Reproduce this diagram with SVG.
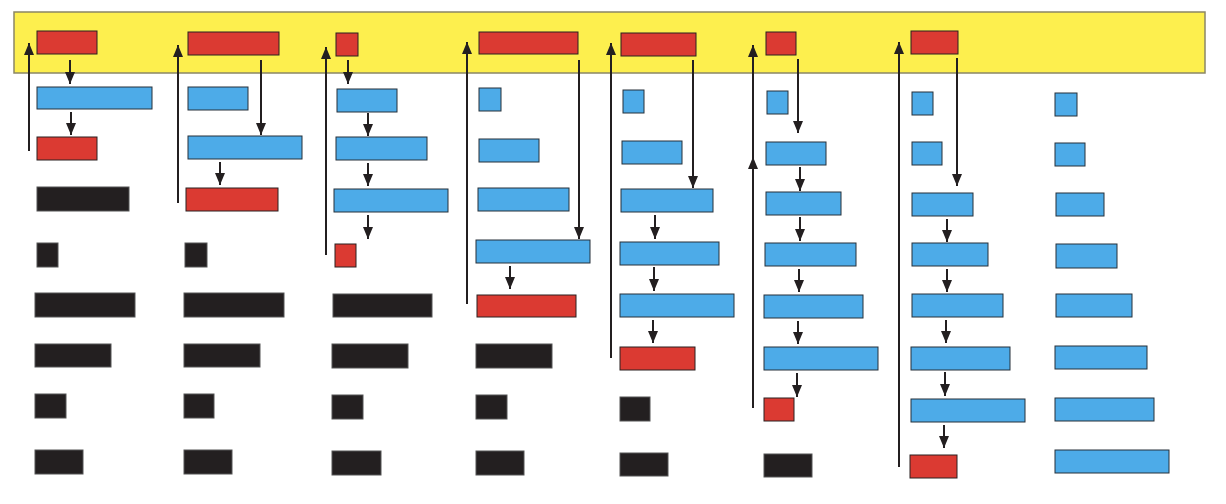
<svg xmlns="http://www.w3.org/2000/svg" width="1226" height="504" viewBox="0 0 1226 504">
<style>
.r{fill:#DB3A32;stroke:#2a2020;stroke-width:1}
.b{fill:#4DABE8;stroke:#26303a;stroke-width:1}
.k{fill:#231F20;stroke:#555;stroke-width:1}
.c{fill:none;stroke:#231F20;stroke-width:2;marker-end:url(#ah)}
</style>
<defs>
<marker id="ah" viewBox="0 0 12 10" refX="12" refY="5" markerWidth="12" markerHeight="10" markerUnits="userSpaceOnUse" orient="auto">
<path d="M0,0 L12,5 L0,10 z" fill="#231F20"/>
</marker>
</defs>
<rect id="band" x="14" y="12" width="1191" height="61" fill="#FDEF4E" stroke="#8a8766" stroke-width="1.5"/>
<g id="col1">
<g id="n1a"><rect class="r" x="37" y="31" width="60" height="23"/></g>
<g id="n1b"><rect class="b" x="37" y="87" width="115" height="22"/></g>
<g id="n1c"><rect class="r" x="37" y="137" width="60" height="23"/></g>
<g id="n1d"><rect class="k" x="37" y="187" width="92" height="24"/></g>
<g id="n1e"><rect class="k" x="37" y="243" width="21" height="24"/></g>
<g id="n1f"><rect class="k" x="35" y="293" width="100" height="24"/></g>
<g id="n1g"><rect class="k" x="35" y="344" width="76" height="23"/></g>
<g id="n1h"><rect class="k" x="35" y="394" width="31" height="24"/></g>
<g id="n1i"><rect class="k" x="35" y="450" width="48" height="24"/></g>
</g>
<g id="col2">
<g id="n2a"><rect class="r" x="188" y="32" width="91" height="23"/></g>
<g id="n2b"><rect class="b" x="188" y="87" width="60" height="23"/></g>
<g id="n2c"><rect class="b" x="188" y="136" width="114" height="23"/></g>
<g id="n2d"><rect class="r" x="186" y="188" width="92" height="23"/></g>
<g id="n2e"><rect class="k" x="185" y="243" width="22" height="24"/></g>
<g id="n2f"><rect class="k" x="184" y="293" width="100" height="24"/></g>
<g id="n2g"><rect class="k" x="184" y="344" width="76" height="23"/></g>
<g id="n2h"><rect class="k" x="184" y="394" width="30" height="24"/></g>
<g id="n2i"><rect class="k" x="184" y="450" width="48" height="24"/></g>
</g>
<g id="col3">
<g id="n3a"><rect class="r" x="336" y="33" width="22" height="23"/></g>
<g id="n3b"><rect class="b" x="337" y="89" width="60" height="23"/></g>
<g id="n3c"><rect class="b" x="336" y="137" width="91" height="23"/></g>
<g id="n3d"><rect class="b" x="334" y="189" width="114" height="23"/></g>
<g id="n3e"><rect class="r" x="335" y="244" width="21" height="23"/></g>
<g id="n3f"><rect class="k" x="333" y="294" width="99" height="23"/></g>
<g id="n3g"><rect class="k" x="332" y="344" width="76" height="24"/></g>
<g id="n3h"><rect class="k" x="332" y="395" width="31" height="24"/></g>
<g id="n3i"><rect class="k" x="332" y="451" width="49" height="24"/></g>
</g>
<g id="col4">
<g id="n4a"><rect class="r" x="479" y="32" width="99" height="22"/></g>
<g id="n4b"><rect class="b" x="479" y="88" width="22" height="23"/></g>
<g id="n4c"><rect class="b" x="479" y="139" width="60" height="23"/></g>
<g id="n4d"><rect class="b" x="478" y="188" width="91" height="23"/></g>
<g id="n4e"><rect class="b" x="476" y="240" width="114" height="23"/></g>
<g id="n4f"><rect class="r" x="477" y="295" width="99" height="22"/></g>
<g id="n4g"><rect class="k" x="476" y="344" width="76" height="24"/></g>
<g id="n4h"><rect class="k" x="476" y="395" width="31" height="24"/></g>
<g id="n4i"><rect class="k" x="476" y="451" width="48" height="24"/></g>
</g>
<g id="col5">
<g id="n5a"><rect class="r" x="621" y="33" width="75" height="23"/></g>
<g id="n5b"><rect class="b" x="623" y="90" width="21" height="23"/></g>
<g id="n5c"><rect class="b" x="622" y="141" width="60" height="23"/></g>
<g id="n5d"><rect class="b" x="621" y="189" width="92" height="23"/></g>
<g id="n5e"><rect class="b" x="620" y="242" width="99" height="23"/></g>
<g id="n5f"><rect class="b" x="620" y="294" width="114" height="23"/></g>
<g id="n5g"><rect class="r" x="620" y="347" width="75" height="23"/></g>
<g id="n5h"><rect class="k" x="620" y="397" width="30" height="24"/></g>
<g id="n5i"><rect class="k" x="620" y="453" width="48" height="23"/></g>
</g>
<g id="col6">
<g id="n6a"><rect class="r" x="766" y="32" width="30" height="23"/></g>
<g id="n6b"><rect class="b" x="767" y="91" width="21" height="23"/></g>
<g id="n6c"><rect class="b" x="766" y="142" width="60" height="23"/></g>
<g id="n6d"><rect class="b" x="766" y="192" width="75" height="23"/></g>
<g id="n6e"><rect class="b" x="765" y="243" width="91" height="23"/></g>
<g id="n6f"><rect class="b" x="764" y="295" width="99" height="23"/></g>
<g id="n6g"><rect class="b" x="764" y="347" width="114" height="23"/></g>
<g id="n6h"><rect class="r" x="764" y="398" width="30" height="23"/></g>
<g id="n6i"><rect class="k" x="764" y="454" width="48" height="23"/></g>
</g>
<g id="col7">
<g id="n7a"><rect class="r" x="911" y="31" width="47" height="23"/></g>
<g id="n7b"><rect class="b" x="912" y="92" width="21" height="23"/></g>
<g id="n7c"><rect class="b" x="912" y="142" width="30" height="23"/></g>
<g id="n7d"><rect class="b" x="912" y="193" width="61" height="23"/></g>
<g id="n7e"><rect class="b" x="912" y="243" width="76" height="23"/></g>
<g id="n7f"><rect class="b" x="912" y="294" width="91" height="23"/></g>
<g id="n7g"><rect class="b" x="911" y="347" width="99" height="23"/></g>
<g id="n7h"><rect class="b" x="911" y="399" width="114" height="23"/></g>
<g id="n7i"><rect class="r" x="910" y="455" width="47" height="23"/></g>
</g>
<g id="col8">
<g id="n8a"><rect class="b" x="1055" y="93" width="22" height="23"/></g>
<g id="n8b"><rect class="b" x="1055" y="143" width="30" height="23"/></g>
<g id="n8c"><rect class="b" x="1056" y="193" width="48" height="23"/></g>
<g id="n8d"><rect class="b" x="1056" y="244" width="61" height="24"/></g>
<g id="n8e"><rect class="b" x="1056" y="294" width="76" height="23"/></g>
<g id="n8f"><rect class="b" x="1055" y="346" width="92" height="23"/></g>
<g id="n8g"><rect class="b" x="1055" y="398" width="99" height="23"/></g>
<g id="n8h"><rect class="b" x="1055" y="450" width="114" height="23"/></g>
</g>
<g id="connectors">
<path class="c" d="M29,151 V43"/>
<path class="c" d="M70,60 V84"/>
<path class="c" d="M71,112 V135"/>
<path class="c" d="M178,203 V45"/>
<path class="c" d="M261,60 V135"/>
<path class="c" d="M220,162 V185"/>
<path class="c" d="M326,255 V47"/>
<path class="c" d="M348,60 V84"/>
<path class="c" d="M368,113 V136"/>
<path class="c" d="M368,163 V186"/>
<path class="c" d="M368,215 V239"/>
<path class="c" d="M467,304 V42"/>
<path class="c" d="M579,60 V239"/>
<path class="c" d="M510,266 V289"/>
<path class="c" d="M611,358 V43"/>
<path class="c" d="M693,60 V188"/>
<path class="c" d="M655,215 V239"/>
<path class="c" d="M654,267 V291"/>
<path class="c" d="M653,320 V343"/>
<path class="c" d="M753,408 V45"/>
<path class="c" d="M753,408 V157"/>
<path class="c" d="M798,59 V133"/>
<path class="c" d="M800,167 V191"/>
<path class="c" d="M800,217 V241"/>
<path class="c" d="M799,269 V292"/>
<path class="c" d="M798,321 V344"/>
<path class="c" d="M797,373 V397"/>
<path class="c" d="M899,467 V42"/>
<path class="c" d="M957,58 V186"/>
<path class="c" d="M947,219 V242"/>
<path class="c" d="M947,269 V292"/>
<path class="c" d="M946,320 V343"/>
<path class="c" d="M945,372 V396"/>
<path class="c" d="M944,425 V448"/>
</g>
</svg>
